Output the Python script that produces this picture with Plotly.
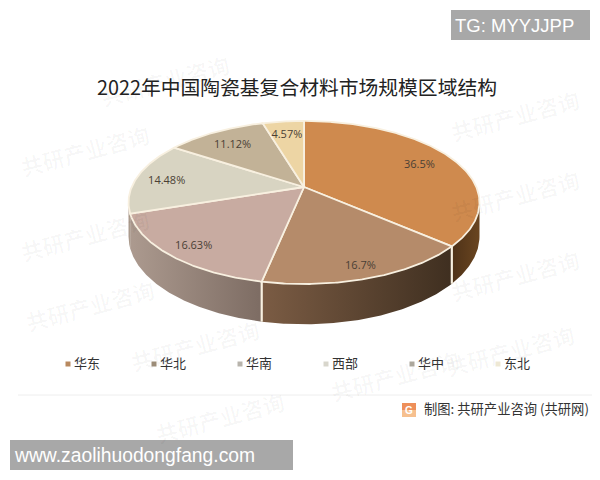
import math
import plotly.graph_objects as go

categories = ["华东", "华北", "华南", "西部", "华中", "东北"]
shares = [36.5, 16.7, 16.63, 14.48, 11.12, 4.57]
top_colors = ["#CF8A4E", "#B58B6A", "#C8ABA1", "#D8D4C2", "#C2B297", "#EDD5A4"]
wall_left = ["#4E3218", "#7B5C44", "#AC9A8F", "#AC9A8F", "#888888", "#888888"]
wall_right = ["#6A4520", "#3F2F20", "#7D6C63", "#A89A8A", "#888888", "#888888"]
legend_colors = ["#B8895F", "#9C8C78", "#B8B4AC", "#D8D6CC", "#ACA79C", "#EEE8D4"]
title_text = "2022年中国陶瓷基复合材料市场规模区域结构"
credit_text = "制图: 共研产业咨询 (共研网)"
badge_top = "TG: MYYJJPP"
badge_bottom = "www.zaolihuodongfang.com"

# projection of the tilted disc onto the pixel-sized axes
CX, CY, A, B, K, DEPTH = 304.0, 187.0, 172.3, 78.6, 0.19, 32.6
EDGE = "#F8F0E0"
label_radius = [0.78, 0.87, 0.85, 0.82, 0.78, 0.80]
LABEL_DROP = 2.5


def project(theta_deg, r=1.0):
    t = math.radians(theta_deg)
    c, s = r * math.sin(t), -r * math.cos(t)
    d = 1 - K * s
    return CX + A * c / d, CY + B * s / d, DEPTH / d


def arc(a0, a1):
    n = max(2, int(abs(a1 - a0) * 2))
    return [a0 + (a1 - a0) * i / n for i in range(n + 1)]


fig = go.Figure()

# cumulative angles
total = sum(shares)
starts, cur = [], 0.0
for v in shares:
    starts.append(cur)
    cur += v / total * 360
ends = starts[1:] + [360.0]

# walls
VIS0, VIS1 = 101.0, 259.0
for i, name in enumerate(categories):
    a0, a1 = max(starts[i], VIS0), min(ends[i], VIS1)
    if a1 <= a0:
        continue
    pts = [project(a) for a in arc(a0, a1)]
    xs = [p[0] for p in pts] + [p[0] for p in reversed(pts)] + [pts[0][0]]
    ys = [p[1] for p in pts] + [p[1] + p[2] for p in reversed(pts)] + [pts[0][1]]
    fig.add_trace(go.Scatter(
        x=xs, y=ys, mode="lines", fill="toself", line=dict(width=0),
        fillgradient=dict(type="horizontal",
                          colorscale=[[0, wall_left[i]], [1, wall_right[i]]]),
        showlegend=False, hoverinfo="skip"))
    if VIS0 < a0 < 240:
        x, y, d = project(a0)
        fig.add_trace(go.Scatter(x=[x, x], y=[y, y + d], mode="lines",
                                 line=dict(color=EDGE, width=2.2),
                                 showlegend=False, hoverinfo="skip"))

# top faces
for i, name in enumerate(categories):
    pts = [project(a) for a in arc(starts[i], ends[i])]
    xs = [CX] + [p[0] for p in pts] + [CX]
    ys = [CY] + [p[1] for p in pts] + [CY]
    fig.add_trace(go.Scatter(
        x=xs, y=ys, mode="lines", fill="toself", fillcolor=top_colors[i],
        line=dict(color=EDGE, width=1.8), name=name, showlegend=False,
        hovertemplate=name + ": %{customdata}%<extra></extra>",
        customdata=[shares[i]] * len(xs)))

# value labels
lab = [project((starts[i] + ends[i]) / 2, label_radius[i]) for i in range(len(shares))]
fig.add_trace(go.Scatter(
    x=[p[0] for p in lab], y=[p[1] + LABEL_DROP for p in lab], mode="text",
    text=[f"{v}%" for v in shares], textposition="middle center",
    textfont=dict(family="Open Sans", size=11, color="#4A3F35"),
    showlegend=False, hoverinfo="skip"))

shapes, notes = [], []


def label(x, y, text, size, color, anchor="left", family="Noto Sans CJK SC", angle=0):
    notes.append(dict(x=x, y=y, xref="x", yref="y", text=text, showarrow=False,
                      xanchor=anchor, yanchor="middle", textangle=angle,
                      font=dict(family=family, size=size, color=color)))


# faint background marks
for wx, wy in [(165, 80), (515, 115), (515, 195), (515, 275), (510, 350), (395, 375),
               (195, 345), (220, 417), (85, 150), (85, 235), (90, 305)]:
    label(wx, wy, "<b>共研产业咨询</b>", 22, "rgba(0,0,0,0.03)", "center", angle=-15)

label(296.5, 86, title_text, 19.8, "#222222", "center")

# legend
LEG_X, LEG_STEP, LEG_Y = 68.0, 86.0, 364.0
for i, name in enumerate(categories):
    mx = LEG_X + LEG_STEP * i
    shapes.append(dict(type="rect", x0=mx - 2.5, x1=mx + 2.5, y0=LEG_Y - 2.5, y1=LEG_Y + 2.5,
                       fillcolor=legend_colors[i], line=dict(width=0)))
    label(mx + 4, LEG_Y - 1.5, name, 13, "#333333")

# footer
shapes.append(dict(type="line", x0=18, x1=592, y0=395, y1=395,
                   line=dict(color="#EEEEEE", width=1)))
shapes.append(dict(type="rect", x0=402, x1=416, y0=403, y1=410,
                   fillcolor="#EE8F5A", line=dict(width=0), layer="above"))
shapes.append(dict(type="rect", x0=402, x1=416, y0=410, y1=417,
                   fillcolor="#F6C08F", line=dict(width=0), layer="above"))
label(409, 410, "<b>G</b>", 10, "#FFFFFF", "center", "Liberation Sans")
label(422, 408.5, credit_text, 13.3, "#333333")

# badges
shapes.append(dict(type="rect", x0=451, x1=590, y0=10, y1=40, fillcolor="#A8A8A8", line=dict(width=0)))
shapes.append(dict(type="rect", x0=10, x1=293, y0=440, y1=470, fillcolor="#A8A8A8", line=dict(width=0)))
label(453, 25.5, badge_top, 18.5, "#FFFFFF", family="Liberation Sans")
label(12, 455.5, badge_bottom, 19.3, "#FFFFFF", family="Liberation Sans")

fig.update_layout(
    width=600, height=480, margin=dict(l=0, r=0, t=0, b=0),
    paper_bgcolor="white", plot_bgcolor="white", showlegend=False,
    xaxis=dict(range=[0, 600], visible=False, fixedrange=True),
    yaxis=dict(range=[480, 0], visible=False, fixedrange=True),
    shapes=shapes, annotations=notes,
)
fig.write_html("out.html", config={"displayModeBar": False},
               post_script="document.body.style.margin='0';")
